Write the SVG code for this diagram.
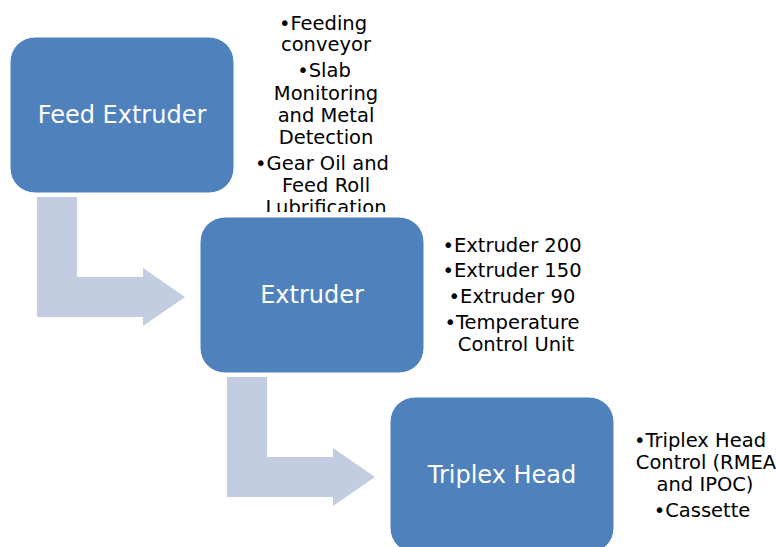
<svg xmlns="http://www.w3.org/2000/svg" width="776" height="547" viewBox="0 0 776 547">
  <style>
    .box { fill: #4F81BD; stroke: #ffffff; stroke-width: 1; }
    .bend { fill: #C3CDE1; }
    .label { font-family: "DejaVu Sans", "Liberation Sans", sans-serif; font-size: 24px; fill: #ffffff; text-anchor: middle; }
    .list { font-family: "DejaVu Sans", "Liberation Sans", sans-serif; font-size: 19.5px; fill: #000000; text-anchor: middle; }
  </style>
  <defs>
    <clipPath id="topListClip">
      <rect x="240" y="0" width="200" height="212"/>
    </clipPath>
    <path id="bentArrow" d="M37,197 H77 V277 H143 V268 L185,297 L143,326 V317 H37 Z"/>
  </defs>

  <rect width="776" height="547" fill="#ffffff"/>

  <!-- bent arrows linking the stages -->
  <g id="connectors">
    <use href="#bentArrow" class="bend"/>
    <use href="#bentArrow" class="bend" transform="translate(190,180)"/>
  </g>

  <g id="feed-extruder">
    <rect class="box" x="10" y="37" width="224" height="156" rx="25"/>
    <text class="label" x="122" y="123">Feed Extruder</text>
  </g>
  <g id="feed-extruder-items" clip-path="url(#topListClip)">
    <text class="list" x="323" y="30">•Feeding</text>
    <text class="list" x="326" y="51">conveyor</text>
    <text class="list" x="324" y="77">•Slab</text>
    <text class="list" x="326" y="100">Monitoring</text>
    <text class="list" x="326" y="122">and Metal</text>
    <text class="list" x="326" y="144">Detection</text>
    <text class="list" x="322" y="170">•Gear Oil and</text>
    <text class="list" x="326" y="192">Feed Roll</text>
    <text class="list" x="326" y="214">Lubrification</text>
  </g>

  <g id="extruder">
    <rect class="box" x="200" y="217" width="224" height="156" rx="25"/>
    <text class="label" x="312" y="303">Extruder</text>
  </g>
  <g id="extruder-items">
    <text class="list" x="512" y="252">•Extruder 200</text>
    <text class="list" x="512" y="277">•Extruder 150</text>
    <text class="list" x="512" y="303">•Extruder 90</text>
    <text class="list" x="512" y="329">•Temperature</text>
    <text class="list" x="516" y="351">Control Unit</text>
  </g>

  <g id="triplex-head">
    <rect class="box" x="390" y="397" width="224" height="156" rx="25"/>
    <text class="label" x="502" y="483">Triplex Head</text>
  </g>
  <g id="triplex-head-items">
    <text class="list" x="700" y="447">•Triplex Head</text>
    <text class="list" x="706" y="469">Control (RMEA</text>
    <text class="list" x="705" y="491">and IPOC)</text>
    <text class="list" x="702" y="517">•Cassette</text>
  </g>
</svg>
